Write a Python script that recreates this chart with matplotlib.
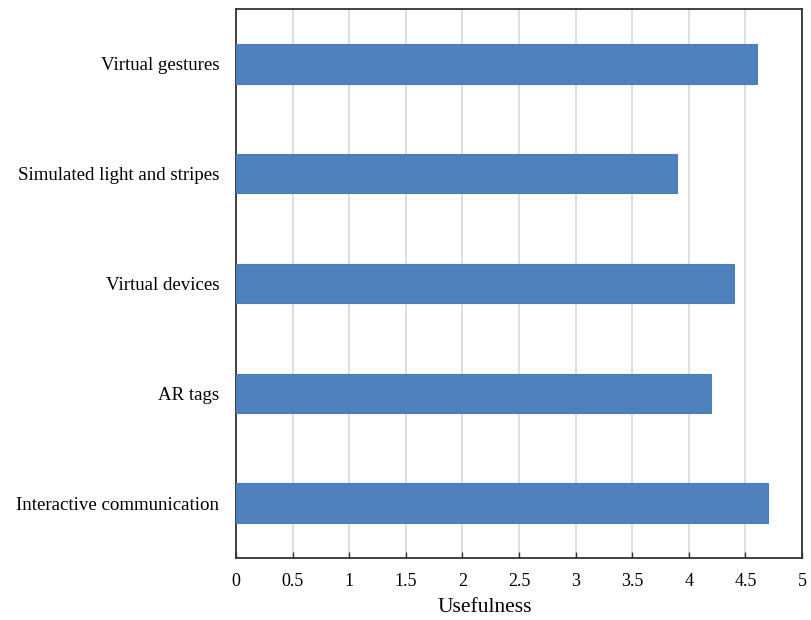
import matplotlib
matplotlib.use("Agg")
import matplotlib.pyplot as plt

categories = ["Interactive communication", "AR tags", "Virtual devices",
              "Simulated light and stripes", "Virtual gestures"]
usefulness = [4.7, 4.2, 4.4, 3.9, 4.6]
xticks = [0, 0.5, 1, 1.5, 2, 2.5, 3, 3.5, 4, 4.5, 5]
xtick_labels = ["0", "0.5", "1", "1.5", "2", "2.5", "3", "3.5", "4", "4.5", "5"]

plt.rcParams['font.family'] = ['Liberation Serif', 'DejaVu Serif']

fig = plt.figure(figsize=(8.11, 6.2), dpi=100)
ax = fig.add_axes([236/811, 1 - 558/620, (802 - 236)/811, (558 - 9)/620])

y = list(range(len(categories)))
ax.barh(y, usefulness, height=0.36, color="#4F81BD", edgecolor="#4A7EBB",
        linewidth=0.8, zorder=3)

ax.set_xlim(0, 5)
ax.set_ylim(-0.5, len(categories) - 0.5)
ax.set_xticks(xticks)
ax.set_xticklabels(xtick_labels, fontsize=13)
ax.set_yticks(y)
ax.set_yticklabels(categories, fontsize=13.6)
ax.tick_params(axis='x', direction='in', length=4, width=1, pad=11, color="#333333")
ax.tick_params(axis='y', length=0, pad=12)
ax.xaxis.grid(True, color="#D9D9D9", linewidth=1.2, zorder=0)
ax.set_axisbelow(True)
for s in ax.spines.values():
    s.set_color("#333333")
    s.set_linewidth(1.3)
ax.set_xlabel("Usefulness", fontsize=15.5)
ax.xaxis.set_label_coords(0.44, -0.073)

fig.savefig("out.png", dpi=100)
